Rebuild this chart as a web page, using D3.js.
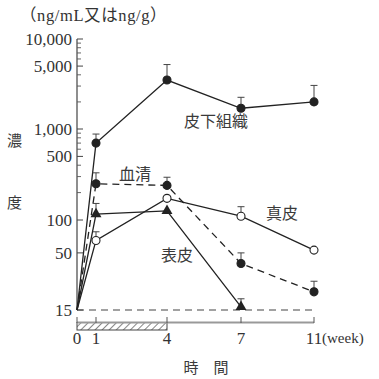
<!DOCTYPE html>
<html><head><meta charset="utf-8">
<script src="https://cdn.jsdelivr.net/npm/d3@7"></script>
<style>
html,body{margin:0;padding:0;background:#fff;}
text{font-family:'Liberation Serif','Noto Sans CJK JP',serif;fill:#333;}
.cjk{font-family:'Noto Sans CJK JP',sans-serif;fill:#3a3a3a;}
</style></head>
<body><svg id="c" width="379" height="379"></svg>
<script>
const weeks = [0, 1, 4, 7, 11];
const xTickLabels = ["0", "1", "4", "7", "11"];
const yMajorTicks = [15, 50, 100, 500, 1000, 5000, 10000];
const yTickLabels = ["15", "50", "100", "500", "1,000", "5,000", "10,000"];
const yMinorTicks = [200, 300, 400, 600, 700, 800, 900, 2000, 3000, 4000, 6000, 7000, 8000, 9000];
const detectionLimit = 15;

const subcutaneous = [15, 700, 3500, 1700, 2000];
const subcutaneousErr = [null, 880, 5200, 2250, 3050];
const serum = [15, 250, 240, 40, 22];
const serumErr = [null, 330, 295, 50, 27.5];
const dermis = [15, 65, 173, 110, 53];
const dermisErr = [null, 78, null, 140, null];
const epidermis = [15, 116, 126, 16, null];
const epidermisErr = [null, 152, null, 19, null];

const svg = d3.select("#c");
const x = d3.scaleLinear().domain([0, 1, 4, 7, 11]).range([77, 96, 167, 241, 314]);
const y = d3.scaleLog().domain([15, 100, 1000, 10000]).range([310, 220, 129, 39]);
const ink = "#222";

// y axis
svg.append("line").attr("x1", 77).attr("x2", 77).attr("y1", y(15)).attr("y2", y(10000))
  .attr("stroke", "#444").attr("stroke-width", 1.2);
svg.selectAll(".ymaj").data(yMajorTicks).enter().append("line")
  .attr("x1", 77).attr("x2", 83).attr("y1", d => y(d)).attr("y2", d => y(d))
  .attr("stroke", "#444").attr("stroke-width", 1);
svg.selectAll(".ymin").data(yMinorTicks).enter().append("line")
  .attr("x1", 77).attr("x2", 81).attr("y1", d => y(d)).attr("y2", d => y(d))
  .attr("stroke", "#555").attr("stroke-width", 0.9);
svg.selectAll(".ylab").data(yMajorTicks).enter().append("text")
  .attr("x", 72).attr("y", d => y(d)).attr("dy", "0.35em").attr("text-anchor", "end")
  .attr("font-size", 17).text((d, i) => yTickLabels[i]);

// detection limit dashed line
svg.append("line").attr("x1", 77).attr("x2", x(11)).attr("y1", y(detectionLimit)).attr("y2", y(detectionLimit))
  .attr("stroke", "#444").attr("stroke-width", 1.1).attr("stroke-dasharray", "7,5");

// hatched dosing bar
const defs = svg.append("defs");
const pat = defs.append("pattern").attr("id", "hatch").attr("patternUnits", "userSpaceOnUse")
  .attr("width", 5).attr("height", 5).attr("patternTransform", "rotate(45)");
pat.append("line").attr("x1", 0).attr("x2", 0).attr("y1", 0).attr("y2", 5)
  .attr("stroke", "#333").attr("stroke-width", 1.2);
svg.append("rect").attr("x", x(0)).attr("y", 322.5).attr("width", x(4) - x(0)).attr("height", 7.5)
  .attr("fill", "url(#hatch)").attr("stroke", "#444").attr("stroke-width", 1);

// x axis
svg.append("line").attr("x1", x(0)).attr("x2", x(11)).attr("y1", 322.5).attr("y2", 322.5)
  .attr("stroke", "#999").attr("stroke-width", 2);
svg.selectAll(".xt").data(weeks).enter().append("line")
  .attr("x1", d => x(d)).attr("x2", d => x(d)).attr("y1", 317).attr("y2", 323)
  .attr("stroke", "#555").attr("stroke-width", 1);
svg.selectAll(".xl").data(weeks).enter().append("text")
  .attr("x", d => x(d)).attr("y", 344).attr("text-anchor", "middle")
  .attr("font-size", 17).text((d, i) => xTickLabels[i]);
svg.append("text").attr("x", 322).attr("y", 343).attr("font-size", 15).text("(week)");

// axis titles
svg.append("text").attr("x", 20).attr("y", 21).attr("font-size", 16.5).attr("letter-spacing", 0.6)
  .text("（ng/mL又はng/g）");
svg.append("text").attr("class", "cjk").attr("x", 14.5).attr("y", 141).attr("dy", "0.35em")
  .attr("text-anchor", "middle").attr("font-size", 15).text("濃");
svg.append("text").attr("class", "cjk").attr("x", 14.5).attr("y", 203).attr("dy", "0.35em")
  .attr("text-anchor", "middle").attr("font-size", 15).text("度");
svg.append("text").attr("class", "cjk").attr("x", 206).attr("y", 368).attr("dy", "0.35em")
  .attr("text-anchor", "middle").attr("font-size", 15).text("時　間");

// series
const series = [
  {name: "皮下組織", v: subcutaneous, e: subcutaneousErr, dash: null, mark: "fc", lx: 216, ly: 121},
  {name: "血清", v: serum, e: serumErr, dash: "7,5", mark: "fc", lx: 135, ly: 174},
  {name: "真皮", v: dermis, e: dermisErr, dash: null, mark: "oc", lx: 282, ly: 213},
  {name: "表皮", v: epidermis, e: epidermisErr, dash: null, mark: "tri", lx: 177, ly: 255}
];
const line = d3.line().defined(d => d[1] != null).x(d => x(d[0])).y(d => y(d[1]));

series.forEach(s => {
  const pts = weeks.map((w, i) => [w, s.v[i], s.e[i]]);
  pts.filter(p => p[2] != null).forEach(p => {
    svg.append("line").attr("x1", x(p[0])).attr("x2", x(p[0])).attr("y1", y(p[1])).attr("y2", y(p[2]))
      .attr("stroke", "#444").attr("stroke-width", 1);
    svg.append("line").attr("x1", x(p[0]) - 3.5).attr("x2", x(p[0]) + 3.5).attr("y1", y(p[2])).attr("y2", y(p[2]))
      .attr("stroke", "#444").attr("stroke-width", 1);
  });
  svg.append("path").datum(pts).attr("d", line).attr("fill", "none")
    .attr("stroke", ink).attr("stroke-width", 1.3)
    .attr("stroke-dasharray", s.dash);
  svg.append("text").attr("class", "cjk").attr("x", s.lx).attr("y", s.ly).attr("dy", "0.35em")
    .attr("text-anchor", "middle").attr("font-size", 16).text(s.name);
});

series.forEach(s => {
  const pts = weeks.map((w, i) => [w, s.v[i]]).filter((p, i) => i > 0 && p[1] != null);
  if (s.mark === "tri") {
    svg.selectAll(null).data(pts).enter().append("path")
      .attr("d", d3.symbol().type(d3.symbolTriangle).size(52))
      .attr("transform", d => `translate(${x(d[0])},${y(d[1])})`)
      .attr("fill", ink);
  } else {
    svg.selectAll(null).data(pts).enter().append("circle")
      .attr("cx", d => x(d[0])).attr("cy", d => y(d[1])).attr("r", 4)
      .attr("fill", s.mark === "oc" ? "#fff" : ink)
      .attr("stroke", ink).attr("stroke-width", 1.1);
  }
});
</script></body></html>
